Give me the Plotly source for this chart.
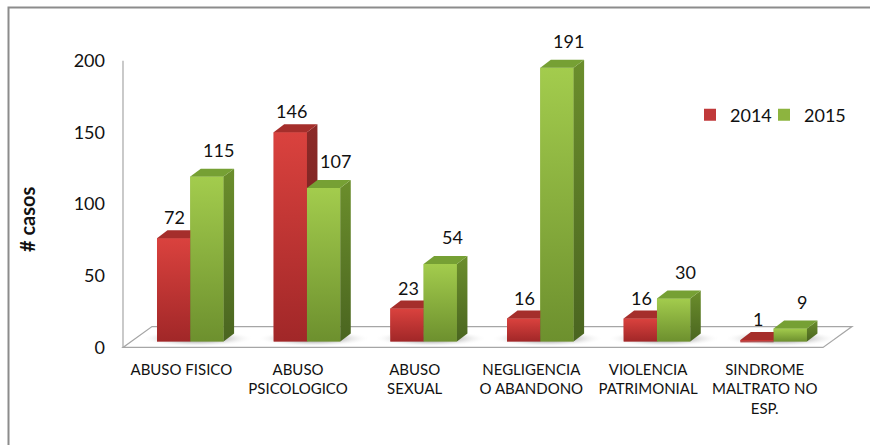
import plotly.graph_objects as go

# ---- data ----
categories = ["ABUSO FISICO", "ABUSO<br>PSICOLOGICO", "ABUSO<br>SEXUAL",
              "NEGLIGENCIA<br>O ABANDONO", "VIOLENCIA<br>PATRIMONIAL",
              "SINDROME<br>MALTRATO NO<br>ESP."]
series_names = ["2014", "2015"]
values_2014 = [72, 146, 23, 16, 16, 1]
values_2015 = [115, 107, 54, 191, 30, 9]
y_ticks = [0, 50, 100, 150, 200]

FONT = "Lato"
W, H = 870, 445

# geometry (in axis units)
PX_PER_CAT = 116.67
PX_PER_VAL = 1.44
bar_w = 33.3 / PX_PER_CAT
first_off = 34 / PX_PER_CAT
dx = 10.5 / PX_PER_CAT      # depth offset x
dy = 8 / PX_PER_VAL         # depth offset y
y_shift = 6 / PX_PER_VAL    # offset between bar base and axis labels
floor_depth_x = 29 / PX_PER_CAT
floor_depth_y = 21 / PX_PER_VAL

x_range = [-0.9, 6.35]
y_range = [-10, 210]
left_px = 123 - 0.9 * PX_PER_CAT
right_px = 123 + 6.35 * PX_PER_CAT
bot_px = 343 + 10 * PX_PER_VAL
top_px = 343 - 210 * PX_PER_VAL

styles = {
    "2014": dict(front=["#a12728", "#da423e"], top="#a52e2b", side=["#6c1d1d", "#8c2a28"],
                 legend="#c0393a", lbl_dx=0.01, lbl_dy=14.6, legend_id="legend", legend_x=690),
    "2015": dict(front=["#6d902e", "#a3cc4d"], top="#76a034", side=["#4a6520", "#6b8e2c"],
                 legend="#8db43f", lbl_dx=0.103, lbl_dy=18.75, legend_id="legend2", legend_x=764),
}

fig = go.Figure()

# legend / semantic bars (covered by the 3D faces drawn on top)
for s_idx, (name, vals) in enumerate(zip(series_names, [values_2014, values_2015])):
    fig.add_trace(go.Bar(
        x=[i + first_off + s_idx * bar_w + bar_w / 2 for i in range(len(categories))],
        y=vals, width=bar_w, name=name, legend=styles[name]["legend_id"],
        marker=dict(color=styles[name]["legend"], line=dict(width=0)),
        showlegend=True, hoverinfo="y+name"))

def poly(xs, ys, fill_kwargs):
    fig.add_trace(go.Scatter(x=xs + [xs[0]], y=ys + [ys[0]], mode="lines",
                             line=dict(width=0), fill="toself", showlegend=False,
                             hoverinfo="skip", **fill_kwargs))

n = len(categories)
# soft shadows on the floor
for i in range(n):
    sx0 = i + first_off - 0.14
    sx1 = i + first_off + 2 * bar_w + dx + 0.12
    poly([sx0, sx1, sx1 + 0.05, sx0 + 0.05], [-3.5, -3.5, dy + 2, dy + 2],
         dict(fillgradient=dict(type="radial",
                                colorscale=[[0, "rgba(110,110,110,0.9)"],
                                            [0.55, "rgba(185,185,185,0.6)"],
                                            [1, "rgba(255,255,255,0)"]])))

# 3D faces, drawn in painter's order
for i in range(n):
    for s_idx, (name, vals) in enumerate(zip(series_names, [values_2014, values_2015])):
        st = styles[name]
        v = vals[i]
        x0 = i + first_off + s_idx * bar_w
        x1 = x0 + bar_w
        # front
        poly([x0, x1, x1, x0], [0, 0, v, v],
             dict(fillgradient=dict(type="vertical",
                                    colorscale=[[0, st["front"][0]], [1, st["front"][1]]])))
        # side
        poly([x1, x1 + dx, x1 + dx, x1], [0, dy, v + dy, v],
             dict(fillgradient=dict(type="vertical",
                                    colorscale=[[0, st["side"][0]], [1, st["side"][1]]])))
        # top
        poly([x0, x1, x1 + dx, x0 + dx], [v, v, v + dy, v + dy],
             dict(fillcolor=st["top"]))

# data labels
annotations = []
for name, vals in zip(series_names, [values_2014, values_2015]):
    st = styles[name]
    s_idx = series_names.index(name)
    for i, v in enumerate(vals):
        xc = i + first_off + s_idx * bar_w + bar_w / 2 + st["lbl_dx"]
        annotations.append(dict(x=xc, y=v + st["lbl_dy"], xref="x", yref="y",
                                text=str(v), showarrow=False,
                                font=dict(family=FONT, size=18, color="#111111"),
                                xanchor="center", yanchor="middle"))

annotations.append(dict(x=27 / W, y=1 - 220 / H, xref="paper", yref="paper",
                        text="<b># casos</b>", textangle=-90, showarrow=False,
                        font=dict(family=FONT, size=20, color="#111111"),
                        xanchor="center", yanchor="middle"))

shapes = [
    # outer frame
    dict(type="rect", xref="paper", yref="paper", x0=8.5 / W, x1=1.2, y0=-0.2, y1=1 - 7.5 / H,
         line=dict(color="#8c8c8c", width=2), fillcolor="rgba(0,0,0,0)", layer="below"),
    # floor
    dict(type="path", xref="x", yref="y2",
         path=f"M0,0 L{n},0 L{n + floor_depth_x},{floor_depth_y} L{floor_depth_x},{floor_depth_y} Z",
         line=dict(color="#a6a6a6", width=1.2), fillcolor="white", layer="below"),
    # vertical axis line
    dict(type="line", xref="x", yref="y2", x0=0, x1=0, y0=0, y1=max(y_ticks),
         line=dict(color="#a6a6a6", width=1.2), layer="below"),
]

legend_common = dict(orientation="h", y=1 - 97 / H, xanchor="left", yanchor="top",
                     font=dict(family=FONT, size=18, color="#111111"),
                     bgcolor="rgba(0,0,0,0)", itemwidth=30)

fig.update_layout(
    width=W, height=H,
    margin=dict(l=0, r=0, t=0, b=0),
    paper_bgcolor="white", plot_bgcolor="rgba(0,0,0,0)",
    barmode="overlay",
    showlegend=True,
    legend=dict(x=styles["2014"]["legend_x"] / W, **legend_common),
    legend2=dict(x=styles["2015"]["legend_x"] / W, **legend_common),
    xaxis=dict(domain=[left_px / W, right_px / W], range=x_range,
               tickvals=[i + 0.5 for i in range(n)], ticktext=categories,
               tickfont=dict(family=FONT, size=15, color="#111111"),
               ticklabelstandoff=3,
               showgrid=False, zeroline=False, showline=False, ticks="",
               fixedrange=True),
    yaxis=dict(domain=[1 - bot_px / H, 1 - top_px / H], range=y_range,
               showgrid=False, zeroline=False, showline=False, showticklabels=False,
               ticks="", fixedrange=True),
    yaxis2=dict(overlaying="y", anchor="free", position=123 / W, side="left",
                range=[y_range[0] + y_shift, y_range[1] + y_shift],
                tickvals=y_ticks, ticktext=[str(t) for t in y_ticks],
                tickfont=dict(family=FONT, size=18, color="#111111"),
                ticklabelstandoff=18,
                showgrid=False, zeroline=False, showline=False, ticks="",
                fixedrange=True),
    shapes=shapes,
    annotations=annotations,
)

# dummy invisible trace to activate yaxis2
fig.add_trace(go.Scatter(x=[0], y=[0], yaxis="y2", mode="markers",
                         marker=dict(opacity=0), showlegend=False, hoverinfo="skip"))

fig.write_html("out.html", config={"displayModeBar": False},
               post_script="document.body.style.margin='0';document.body.style.overflow='hidden';")
